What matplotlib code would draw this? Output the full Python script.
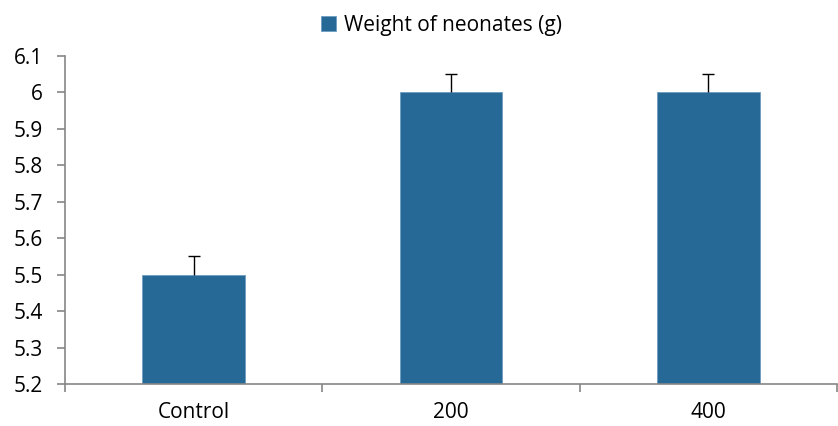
import numpy as np
import matplotlib.pyplot as plt

# data
groups = ['Control', '200', '400']
weights = [5.5, 6.0, 6.0]
errors = [0.05, 0.05, 0.05]
yticks = [5.2, 5.3, 5.4, 5.5, 5.6, 5.7, 5.8, 5.9, 6.0, 6.1]
ytick_labels = ['5.2', '5.3', '5.4', '5.5', '5.6', '5.7', '5.8', '5.9', '6', '6.1']

plt.rcParams['font.family'] = ['Open Sans', 'DejaVu Sans']

fig = plt.figure(figsize=(8.38, 4.26), dpi=100)
ax = fig.add_axes([0.0776, 0.0986, 0.9212, 0.7699])

x = np.arange(len(groups))
w = np.array(weights)
e = np.array(errors)
ax.bar(x, w, width=0.4, color='#266996', edgecolor='#6d9cc2', linewidth=0.6,
       label='Weight of neonates (g)', zorder=2)
# only the upper half of the error bar is shown (stem + top cap)
ax.vlines(x, w, w + e, color='black', linewidth=1.0, zorder=3)
ax.hlines(w + e, x - 0.023, x + 0.023, color='black', linewidth=1.0, zorder=3)

ax.set_xlim(-0.5, len(groups) - 0.5)
ax.set_ylim(5.2, 6.1)
ax.set_yticks(yticks)
ax.set_yticklabels(ytick_labels)

ax.set_xticks(x)
ax.set_xticklabels(groups)
ax.set_xticks(np.arange(-0.5, len(groups), 1.0), minor=True)
ax.tick_params(axis='x', which='major', length=0, labelsize=15, pad=13)
ax.tick_params(axis='x', which='minor', length=6, color='#868686', width=1.2)
ax.tick_params(axis='y', length=6, color='#868686', width=1.2, labelsize=15, pad=10)

for side in ['top', 'right']:
    ax.spines[side].set_visible(False)
for side in ['left', 'bottom']:
    ax.spines[side].set_color('#868686')
    ax.spines[side].set_linewidth(1.2)

ax.legend(loc='center', bbox_to_anchor=(0.488, 1.094), frameon=False,
          fontsize=15, handlelength=0.7, handleheight=0.7, handletextpad=0.4,
          borderaxespad=0, borderpad=0)

fig.savefig('out.png', dpi=100)
